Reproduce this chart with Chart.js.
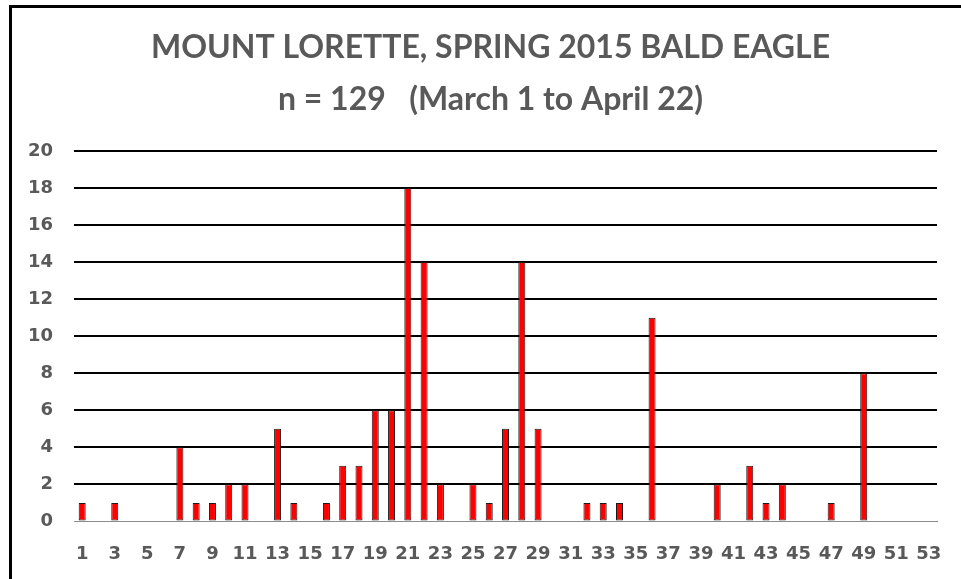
<!DOCTYPE html>
<html>
<head>
<meta charset="utf-8">
<script src="https://cdn.jsdelivr.net/npm/chart.js@4.4.1/dist/chart.umd.min.js"></script>
<style>
  html, body { margin: 0; padding: 0; background: #fff; }
  #wrap { position: relative; width: 961px; height: 579px; overflow: hidden; }
  #frame {
    position: absolute; left: 9px; top: 5px; width: 980px; height: 600px;
    border-left: 3px solid #000; border-top: 3px solid #000; pointer-events: none;
  }
</style>
</head>
<body>
<div id="wrap">
  <canvas id="eagleChart" width="961" height="579"></canvas>
  <div id="frame"></div>
</div>
<script>
// day numbers along the bottom (1 = March 1)
const days = [1, 2, 3, 4, 5, 6, 7, 8, 9, 10, 11, 12, 13, 14, 15, 16, 17, 18, 19, 20,
  21, 22, 23, 24, 25, 26, 27, 28, 29, 30, 31, 32, 33, 34, 35, 36, 37, 38, 39, 40,
  41, 42, 43, 44, 45, 46, 47, 48, 49, 50, 51, 52, 53];
// bald eagles counted per day
const counts = [1, 0, 1, 0, 0, 0, 4, 1, 1, 2, 2, 0, 5, 1, 0, 1, 3, 3, 6, 6,
  18, 14, 2, 0, 2, 1, 5, 14, 5, 0, 0, 1, 1, 1, 0, 11, 0, 0, 0, 2,
  0, 3, 1, 2, 0, 0, 1, 0, 8, 0, 0, 0, 0];
const titleLines = ['MOUNT LORETTE, SPRING 2015 BALD EAGLE', 'n = 129   (March 1 to April 22)'];
const yMax = 20;
const yStep = 2;

const tickFont = { family: 'DejaVu Sans', weight: 'bold', size: 18 };

// the excel title sits a bit right of the canvas centre
const shiftTitle = {
    id: 'shiftTitle',
    afterLayout(chart) {
        chart.titleBlock.left = 44;
    }
};

const ctx = document.getElementById('eagleChart').getContext('2d');
const eagleChart = new Chart(ctx, {
    type: 'bar',
    data: {
        labels: days,
        datasets: [{
            label: 'Bald Eagle',
            data: counts,
            backgroundColor: '#ff0000',
            borderColor: '#1a1a1a',
            borderWidth: 1,
            borderSkipped: false,
            barPercentage: 0.43,
            categoryPercentage: 1
        }]
    },
    plugins: [shiftTitle],
    options: {
        responsive: false,
        animation: false,
        layout: {
            // tick padding is counted twice by chart.js, so these are small
            padding: { left: 7, right: 24, top: 0, bottom: 0 }
        },
        plugins: {
            legend: { display: false },
            tooltip: { enabled: false },
            title: {
                display: true,
                text: titleLines,
                color: '#595959',
                font: { family: 'Lato', weight: 'bold', size: 32, lineHeight: 1.625 },
                padding: { top: 22, bottom: 25 }
            }
        },
        scales: {
            x: {
                offset: true,
                grid: { display: false },
                border: { display: true, color: '#8c8c8c', width: 1 },
                ticks: {
                    autoSkip: false,
                    maxRotation: 0,
                    padding: 14,
                    color: '#595959',
                    font: tickFont,
                    callback: function(value, index) {
                        return index % 2 === 0 ? days[index] : '';
                    }
                }
            },
            y: {
                min: 0,
                max: yMax,
                border: { display: false },
                grid: {
                    drawTicks: false,
                    color: c => c.tick.value === 0 ? 'rgba(0,0,0,0)' : '#000',
                    lineWidth: 2
                },
                ticks: {
                    stepSize: yStep,
                    padding: 21,
                    color: '#595959',
                    font: tickFont
                }
            }
        }
    }
});
</script>
</body>
</html>
